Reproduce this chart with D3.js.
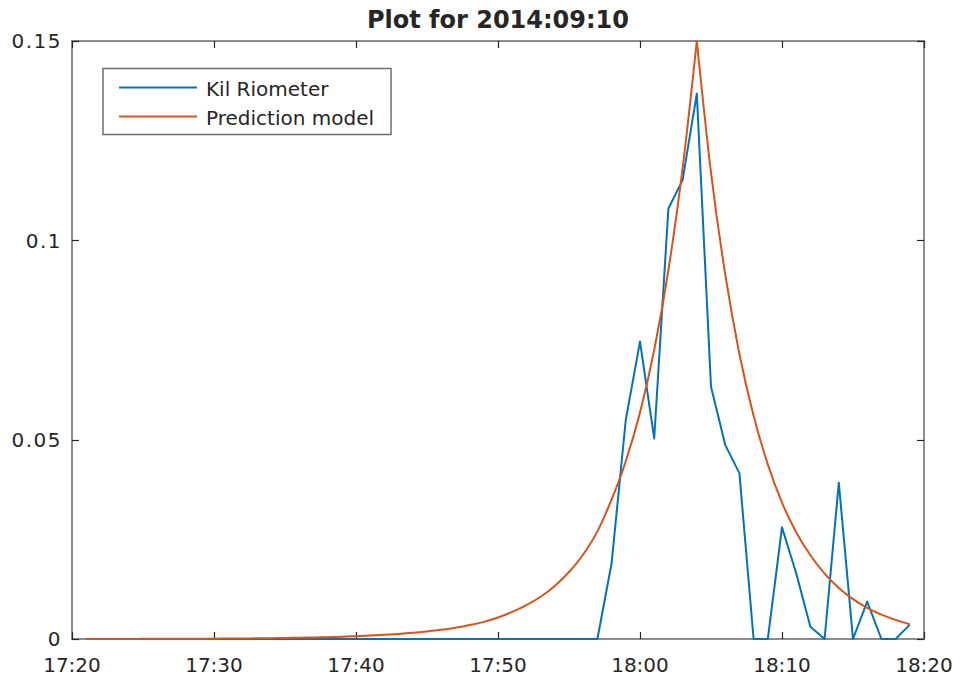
<!DOCTYPE html>
<html>
<head>
<meta charset="utf-8">
<script src="https://cdn.jsdelivr.net/npm/d3@7"></script>
<style>
  html, body { margin: 0; padding: 0; background: #fff; }
  svg { display: block; }
  text { font-family: "DejaVu Sans", sans-serif; fill: #262626; }
</style>
</head>
<body>
<svg id="chart" width="962" height="679"></svg>
<script>
// One sample per minute, 17:21 .. 18:19 on 2014-09-10
const sampleStart = "2014-09-10T17:21:00";
const sampleStepMinutes = 1;

// Measured absorption (Kilpisjärvi riometer)
const kilRiometer = [
  0, 0, 0, 0, 0, 0, 0, 0, 0, 0,
  0, 0, 0, 0, 0, 0, 0, 0, 0, 0,
  0, 0, 0, 0, 0, 0, 0, 0, 0, 0,
  0, 0, 0, 0, 0, 0, 0, 0.019, 0.055, 0.0746,
  0.0503, 0.108, 0.1151, 0.1368, 0.0633, 0.0487, 0.0416, 0, 0, 0.0280,
  0.0165, 0.0031, 0, 0.0392, 0, 0.0094, 0, 0, 0.0036
];

// Modelled absorption
const predictionModel = [
  0.000015, 0.000019, 0.000023, 0.000028, 0.000034, 0.000042, 0.000051, 0.000063, 0.000077, 0.000094,
  0.000115, 0.00014, 0.00017, 0.00021, 0.00026, 0.00031, 0.00038, 0.00047, 0.00057, 0.0007,
  0.00085, 0.00104, 0.00127, 0.00155, 0.0019, 0.0023, 0.0028, 0.0035, 0.0043, 0.0054,
  0.0068, 0.0085, 0.0106, 0.0133, 0.0168, 0.0212, 0.0270, 0.0350, 0.0446, 0.0568,
  0.0725, 0.0925, 0.118, 0.150, 0.117, 0.0915, 0.0715, 0.0560, 0.0438, 0.0342,
  0.0268, 0.0210, 0.0164, 0.0128, 0.0100, 0.0078, 0.0061, 0.0048, 0.0037
];

const seriesNames = ["Kil Riometer", "Prediction model"];
const seriesColors = ["#0072BD", "#D95319"];
const yTickValues = [0, 0.05, 0.1, 0.15];
const yTickLabels = ["0", "0.05", "0.1", "0.15"];
const xDomain = ["2014-09-10T17:20:00", "2014-09-10T18:20:00"];
const titleText = "Plot for 2014:09:10";

const parse = d3.isoParse;
const t0 = parse(sampleStart);
const times = kilRiometer.map((_, i) => d3.timeMinute.offset(t0, i * sampleStepMinutes));

const svg = d3.select("#chart");
const margin = { left: 72, right: 38, top: 41, bottom: 40 };
const W = 962, H = 679;
const x0 = margin.left, x1 = W - margin.right;
const y0 = H - margin.bottom, y1 = margin.top;

const x = d3.scaleTime().domain(xDomain.map(parse)).range([x0, x1]);
const y = d3.scaleLinear().domain([0, 0.15]).range([y0, y1]);

const xTicks = d3.timeMinute.every(10).range(x.domain()[0], d3.timeMinute.offset(x.domain()[1], 1));
const fmt = d3.timeFormat("%H:%M");

// Box around the axes (data is drawn over it)
svg.append("rect")
  .attr("x", x0).attr("y", y1)
  .attr("width", x1 - x0).attr("height", y0 - y1)
  .attr("fill", "none").attr("stroke", "#8c8c8c").attr("stroke-width", 2);

// Inward ticks on all four sides
const tickLen = 7;
const tickColor = "#262626";
const xt = svg.append("g");
xTicks.forEach(t => {
  const px = Math.round(x(t)) + 0.5;
  xt.append("line").attr("x1", px).attr("x2", px).attr("y1", y0).attr("y2", y0 - tickLen)
    .attr("stroke", tickColor).attr("stroke-width", 1.2);
  xt.append("line").attr("x1", px).attr("x2", px).attr("y1", y1).attr("y2", y1 + tickLen)
    .attr("stroke", tickColor).attr("stroke-width", 1.2);
  xt.append("text").attr("x", x(t)).attr("y", 672)
    .attr("text-anchor", "middle").attr("font-size", 20).text(fmt(t));
});
yTickValues.forEach((v, i) => {
  const py = Math.round(y(v)) + 0.5;
  xt.append("line").attr("x1", x0).attr("x2", x0 + tickLen).attr("y1", py).attr("y2", py)
    .attr("stroke", tickColor).attr("stroke-width", 1.2);
  xt.append("line").attr("x1", x1).attr("x2", x1 - tickLen).attr("y1", py).attr("y2", py)
    .attr("stroke", tickColor).attr("stroke-width", 1.2);
  xt.append("text").attr("x", 62).attr("y", y(v)).attr("dy", "0.36em")
    .attr("text-anchor", "end").attr("font-size", 20).attr("letter-spacing", 1.5)
    .text(yTickLabels[i]);
});

// Series lines
const pts = vals => vals.map((v, i) => [x(times[i]), y(v)]);
const plotG = svg.append("g");

// Measured series: straight segments between samples
plotG.append("path")
  .datum(pts(kilRiometer))
  .attr("fill", "none")
  .attr("stroke", seriesColors[0])
  .attr("stroke-width", 2)
  .attr("stroke-linejoin", "round")
  .attr("d", d3.line());

// Model series: smooth rise and decay, meeting in a sharp peak
const modelPts = pts(predictionModel);
const peakIdx = d3.maxIndex(predictionModel);
const smooth = d3.line().curve(d3.curveMonotoneX);
[modelPts.slice(0, peakIdx + 1), modelPts.slice(peakIdx)].forEach(part => {
  plotG.append("path")
    .datum(part)
    .attr("fill", "none")
    .attr("stroke", seriesColors[1])
    .attr("stroke-width", 2)
    .attr("stroke-linejoin", "round")
    .attr("d", smooth);
});

// Title
svg.append("text").attr("x", (x0 + x1) / 2).attr("y", 28)
  .attr("text-anchor", "middle").attr("font-size", 24).attr("font-weight", "bold")
  .text(titleText);

// Legend
const lg = svg.append("g");
lg.append("rect").attr("x", 103).attr("y", 68.5).attr("width", 288).attr("height", 66)
  .attr("fill", "#fff").attr("stroke", "#6e6e6e").attr("stroke-width", 1.5);
seriesNames.forEach((name, i) => {
  const ly = 87.5 + i * 29;
  lg.append("line").attr("x1", 119).attr("x2", 197).attr("y1", ly).attr("y2", ly)
    .attr("stroke", seriesColors[i]).attr("stroke-width", 2);
  lg.append("text").attr("x", 206).attr("y", ly + 8).attr("font-size", 20).text(name);
});
</script>
</body>
</html>
